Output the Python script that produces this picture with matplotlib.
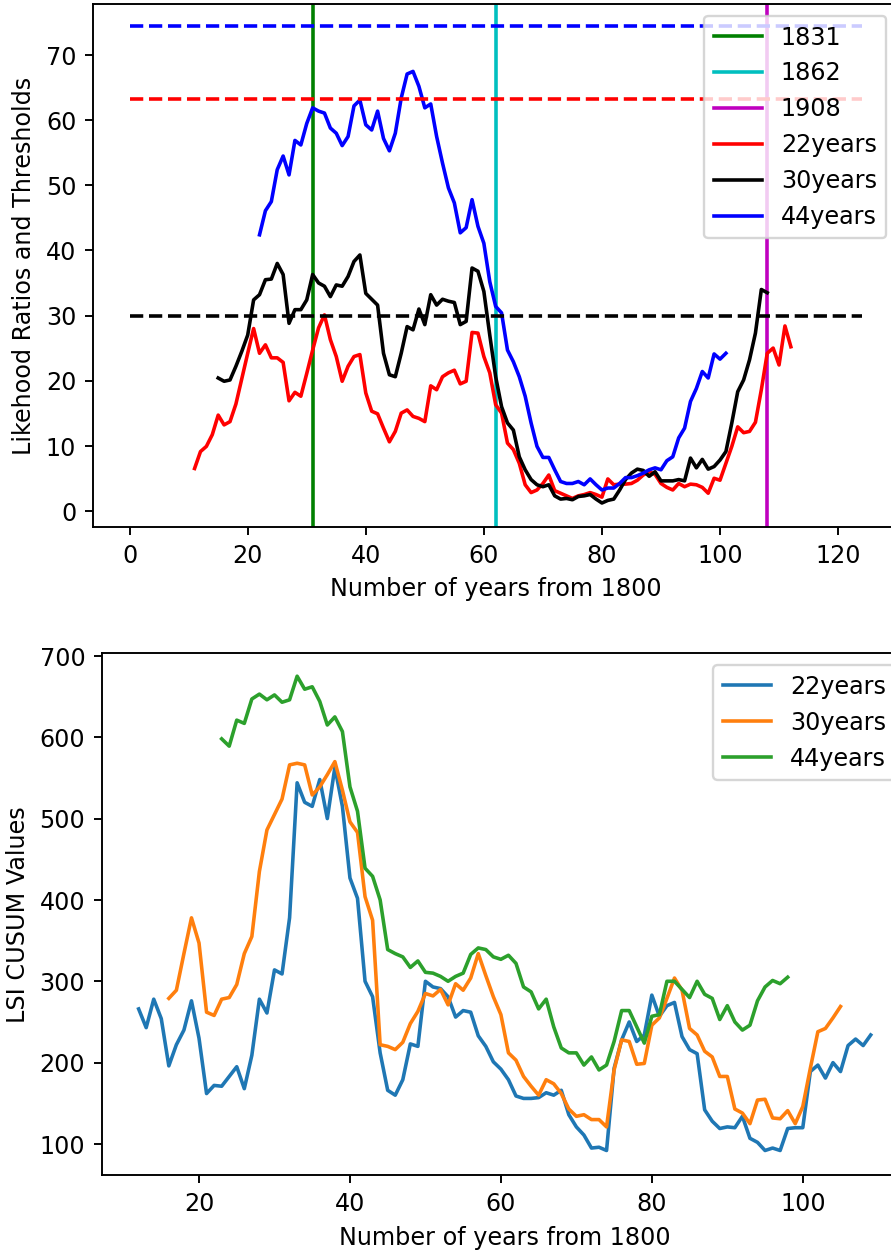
import numpy as np
import matplotlib
matplotlib.use('Agg')
import matplotlib.pyplot as plt

# change points (years from 1800) and labels
change_years = [31, 62, 108]
change_labels = ['1831', '1862', '1908']
change_colors = ['g', 'c', 'm']

# thresholds of the likelihood ratio tests
thr_span = [0, 124]
thr_22 = 63.2
thr_30 = 30.0
thr_44 = 74.4

# likelihood ratios, one value per year
lr22_start = 11
lr22 = [6.5, 9.1, 9.9, 11.7, 14.7, 13.2, 13.7, 16.4, 20.3, 24.2,
        28.0, 24.2, 25.5, 23.5, 23.5, 22.8, 16.9, 18.2, 17.6, 21.1,
        24.7, 28.1, 30.1, 26.3, 23.7, 19.9, 22.2, 23.7, 24.0, 18.1,
        15.3, 14.9, 12.7, 10.6, 12.2, 15.0, 15.5, 14.5, 14.2, 13.7,
        19.2, 18.6, 20.6, 21.2, 21.6, 19.5, 19.9, 27.4, 27.3, 23.7,
        21.2, 16.3, 15.0, 10.4, 9.4, 7.3, 4.0, 2.8, 3.2, 4.2,
        5.5, 3.1, 2.7, 2.3, 1.9, 2.3, 2.5, 2.8, 2.5, 2.1,
        4.9, 4.0, 4.1, 4.1, 4.2, 4.7, 5.5, 6.0, 5.6, 4.2,
        3.6, 3.2, 4.2, 3.7, 4.1, 4.0, 3.6, 2.7, 5.0, 4.7,
        7.3, 9.9, 12.9, 12.0, 12.2, 13.6, 18.6, 24.2, 25.0, 22.4,
        28.4, 25.2]

lr30_start = 15
lr30 = [20.4, 19.9, 20.1, 22.2, 24.5, 27.0, 32.4, 33.2, 35.5, 35.6,
        38.0, 36.3, 28.8, 30.9, 30.9, 32.4, 36.3, 35.0, 34.5, 32.9,
        34.7, 34.5, 36.0, 38.3, 39.3, 33.4, 32.5, 31.6, 24.2, 20.9,
        20.6, 24.2, 28.3, 27.8, 31.0, 28.6, 33.2, 31.6, 32.5, 32.2,
        32.0, 28.6, 29.1, 37.3, 36.8, 33.7, 27.0, 20.6, 16.0, 13.5,
        12.4, 8.3, 6.3, 4.8, 4.0, 3.7, 4.0, 2.3, 1.8, 1.9,
        1.7, 2.2, 2.3, 2.5, 1.8, 1.2, 1.6, 1.8, 3.2, 4.8,
        5.8, 6.4, 6.2, 5.3, 6.0, 4.6, 4.6, 4.6, 4.8, 4.6,
        8.1, 6.6, 7.9, 6.4, 6.8, 7.8, 9.1, 13.5, 18.3, 20.1,
        23.2, 27.3, 34.0, 33.5]

lr44_start = 22
lr44 = [42.4, 46.1, 47.5, 52.4, 54.5, 51.6, 56.9, 56.2, 59.5, 61.9,
        61.4, 61.1, 58.8, 58.0, 56.1, 57.5, 62.2, 63.1, 59.3, 58.5,
        61.4, 57.2, 55.3, 58.0, 63.4, 67.1, 67.5, 65.2, 61.9, 62.5,
        57.5, 53.4, 49.6, 47.3, 42.7, 43.5, 47.8, 43.7, 41.1, 35.2,
        31.4, 30.4, 24.7, 22.9, 20.6, 17.6, 13.5, 9.9, 8.2, 8.2,
        6.3, 4.5, 4.2, 4.2, 4.5, 4.0, 4.9, 4.0, 3.2, 3.5,
        3.5, 4.2, 5.1, 5.1, 5.4, 5.8, 6.3, 6.6, 6.3, 7.7,
        8.3, 11.2, 12.7, 16.8, 18.8, 21.4, 20.4, 24.1, 23.3, 24.2]

# LSI CUSUM values
cs22_start = 12
cs22 = [266, 243, 278, 254, 196, 222, 240, 276, 230, 162,
        172, 171, 183, 195, 168, 209, 278, 261, 314, 309,
        378, 544, 520, 515, 548, 500, 563, 515, 427, 402,
        300, 281, 212, 166, 160, 179, 223, 220, 300, 293,
        291, 281, 256, 264, 262, 233, 220, 201, 192, 179,
        159, 156, 156, 157, 163, 160, 166, 136, 121, 111,
        95, 96, 92, 193, 228, 250, 226, 234, 283, 257,
        270, 274, 232, 216, 211, 142, 128, 119, 121, 120,
        134, 107, 102, 92, 95, 92, 119, 120, 120, 189,
        197, 181, 200, 189, 221, 229, 221, 234]

cs30_start = 16
cs30 = [279, 289, 334, 378, 347, 262, 258, 278, 280, 296,
        334, 355, 435, 486, 505, 524, 566, 568, 566, 529,
        539, 554, 570, 535, 496, 483, 404, 375, 222, 220,
        216, 225, 248, 263, 285, 282, 290, 271, 297, 289,
        304, 334, 307, 281, 259, 212, 203, 183, 171, 160,
        179, 174, 162, 143, 134, 136, 130, 130, 121, 191,
        228, 226, 198, 199, 246, 255, 279, 304, 289, 242,
        234, 214, 207, 183, 183, 143, 138, 125, 154, 155,
        132, 131, 141, 125, 146, 193, 238, 242, 255, 269]

cs44_start = 23
cs44 = [598, 589, 621, 617, 647, 653, 646, 652, 643, 646,
        675, 659, 662, 644, 615, 625, 607, 539, 509, 439,
        429, 400, 339, 334, 330, 317, 325, 311, 310, 306,
        300, 306, 310, 333, 341, 339, 330, 327, 332, 322,
        293, 287, 266, 278, 244, 218, 212, 212, 197, 207,
        191, 197, 226, 264, 264, 244, 224, 257, 259, 300,
        300, 290, 280, 300, 284, 279, 253, 270, 250, 240,
        246, 276, 293, 301, 297, 305]


def years(start, values):
    return np.arange(start, start + len(values))


dpi = 172
fig = plt.figure(figsize=(891.3 / dpi, 1251.3 / dpi), dpi=dpi)

# top: likelihood ratios with thresholds
ax1 = fig.add_axes([93 / 891, 1 - 527 / 1251, 805 / 891, 523 / 1251])
for yr, lab, col in zip(change_years, change_labels, change_colors):
    ax1.axvline(yr, color=col, label=lab)
ax1.plot(years(lr22_start, lr22), lr22, 'r', label='22years')
ax1.plot(years(lr30_start, lr30), lr30, 'k', label='30years')
ax1.plot(years(lr44_start, lr44), lr44, 'b', label='44years')
ax1.plot(thr_span, [thr_22, thr_22], 'r--')
ax1.plot(thr_span, [thr_30, thr_30], 'k--')
ax1.plot(thr_span, [thr_44, thr_44], 'b--')
ax1.set_xlim(-6.2, 130.2)
ax1.set_ylim(-2.46, 77.9)
ax1.set_xlabel('Number of years from 1800')
ax1.set_ylabel('Likehood Ratios and Thresholds')
ax1.legend(loc='upper right')

# bottom: LSI CUSUM
ax2 = fig.add_axes([102 / 891, 1 - 1175 / 1251, 805 / 891, 522 / 1251])
ax2.plot(years(cs22_start, cs22), cs22, label='22years')
ax2.plot(years(cs30_start, cs30), cs30, label='30years')
ax2.plot(years(cs44_start, cs44), cs44, label='44years')
ax2.set_xlim(7.15, 113.85)
ax2.set_ylim(61.9, 703.7)
ax2.set_xlabel('Number of years from 1800')
ax2.set_ylabel('LSI CUSUM Values')
ax2.legend(loc='upper right')

fig.savefig('out.png', dpi=dpi)
